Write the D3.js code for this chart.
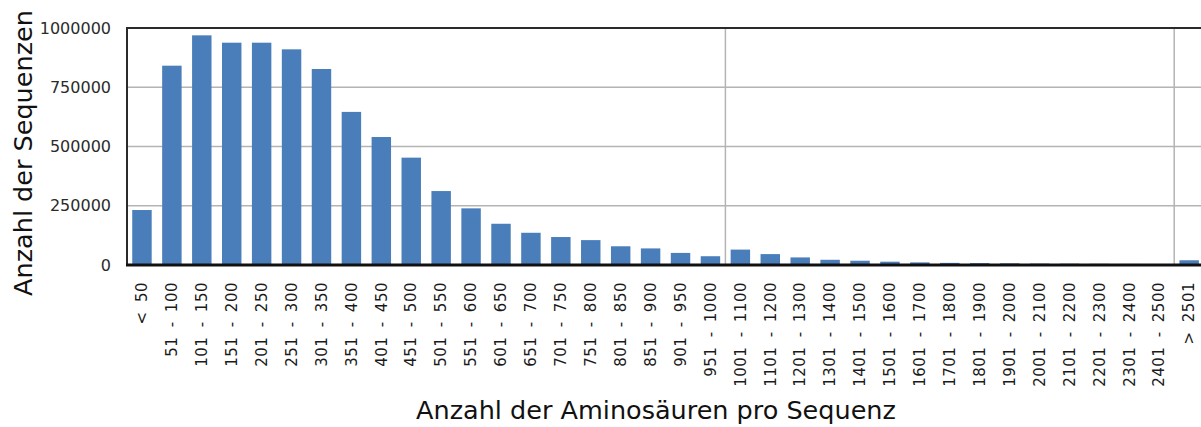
<!DOCTYPE html>
<html lang="de">
<head>
<meta charset="utf-8">
<title>Anzahl der Aminosäuren pro Sequenz</title>
<script src="https://cdn.jsdelivr.net/npm/d3@7"></script>
<style>
  html, body { margin: 0; padding: 0; background: #fff; }
  svg { display: block; font-family: "DejaVu Sans", sans-serif; }
</style>
</head>
<body>
<svg id="chart" width="1201" height="427"></svg>
<script>
// Sequence length bins (amino acids per sequence)
const categories = [
  "< 50", "51 - 100", "101 - 150", "151 - 200", "201 - 250", "251 - 300",
  "301 - 350", "351 - 400", "401 - 450", "451 - 500", "501 - 550", "551 - 600",
  "601 - 650", "651 - 700", "701 - 750", "751 - 800", "801 - 850", "851 - 900",
  "901 - 950", "951 - 1000",
  "1001 - 1100", "1101 - 1200", "1201 - 1300", "1301 - 1400", "1401 - 1500",
  "1501 - 1600", "1601 - 1700", "1701 - 1800", "1801 - 1900", "1901 - 2000",
  "2001 - 2100", "2101 - 2200", "2201 - 2300", "2301 - 2400", "2401 - 2500",
  "> 2501"
];

// Number of sequences per bin
const counts = [
  232000, 841000, 969000, 938000, 938000, 910000,
  827000, 646000, 540000, 453000, 312000, 239000,
  174000, 136000, 118000, 105000, 79000, 70000,
  51000, 37000,
  65000, 46000, 32000, 22000, 18000,
  14000, 11000, 9000, 8000, 7000,
  6000, 5500, 5000, 4500, 4000,
  20000
];

// Bins that start a new bin width (50 -> 100 -> open-ended)
const groupStarts = ["1001 - 1100", "> 2501"];

const yTicks = [0, 250000, 500000, 750000, 1000000];

const svg = d3.select("#chart");
const plotLeft = 127, plotTop = 28, plotBottom = 265;
const plotRight = plotLeft + categories.length * 29.92;

const x = d3.scaleBand()
  .domain(categories)
  .range([plotLeft, plotRight])
  .paddingInner(0.35)
  .paddingOuter(0.175);

const y = d3.scaleLinear()
  .domain([0, 1000000])
  .range([plotBottom, plotTop]);

// horizontal grid lines
svg.append("g")
  .selectAll("line")
  .data(yTicks.filter(d => d > 0 && d < 1000000))
  .join("line")
  .attr("x1", plotLeft).attr("x2", 1201)
  .attr("y1", d => y(d)).attr("y2", d => y(d))
  .attr("stroke", "#b4b4b4").attr("stroke-width", 1.5);

// vertical separators between bin-width groups
svg.append("g")
  .selectAll("line")
  .data(groupStarts)
  .join("line")
  .attr("x1", d => x(d) - x.step() * x.paddingInner() / 2)
  .attr("x2", d => x(d) - x.step() * x.paddingInner() / 2)
  .attr("y1", plotTop).attr("y2", plotBottom)
  .attr("stroke", "#b4b4b4").attr("stroke-width", 1.5);

// bars
svg.append("g")
  .selectAll("rect")
  .data(categories)
  .join("rect")
  .attr("x", d => x(d))
  .attr("width", x.bandwidth())
  .attr("y", (d, i) => y(counts[i]))
  .attr("height", (d, i) => plotBottom - y(counts[i]))
  .attr("fill", "#4a7ebb");

// frame: top and left edges, baseline
svg.append("line")
  .attr("x1", plotLeft).attr("x2", 1201).attr("y1", plotTop).attr("y2", plotTop)
  .attr("stroke", "#2a2a2a").attr("stroke-width", 2);
svg.append("line")
  .attr("x1", plotLeft).attr("x2", plotLeft).attr("y1", plotTop - 1).attr("y2", plotBottom)
  .attr("stroke", "#2a2a2a").attr("stroke-width", 2);
svg.append("line")
  .attr("x1", plotLeft - 1).attr("x2", 1201).attr("y1", plotBottom).attr("y2", plotBottom)
  .attr("stroke", "#111").attr("stroke-width", 3);

// y axis labels
const yAxis = d3.axisLeft(y).tickValues(yTicks).tickSize(0).tickPadding(16)
  .tickFormat(d3.format("d"));
svg.append("g")
  .attr("transform", `translate(${plotLeft},0)`)
  .call(yAxis)
  .call(g => g.select(".domain").remove())
  .call(g => g.selectAll("text")
    .attr("font-size", 16)
    .attr("font-family", "DejaVu Sans, sans-serif")
    .attr("fill", "#2b2b2b"));

// x axis labels, rotated
const xAxis = d3.axisBottom(x).tickSize(0).tickPadding(0);
svg.append("g")
  .attr("transform", `translate(0,${plotBottom})`)
  .call(xAxis)
  .call(g => g.select(".domain").remove())
  .call(g => g.selectAll("text")
    .attr("font-size", 15)
    .attr("font-family", "DejaVu Sans, sans-serif")
    .attr("fill", "#1a1a1a")
    .style("letter-spacing", "0.5px")
    .style("word-spacing", "4px")
    .attr("text-anchor", "end")
    .attr("transform", "rotate(-90)")
    .attr("x", -17)
    .attr("y", 0)
    .attr("dy", "0.35em"));

// axis titles
svg.append("text")
  .attr("x", 656).attr("y", 419)
  .attr("text-anchor", "middle")
  .attr("font-size", 25.5)
  .attr("fill", "#111")
  .text("Anzahl der Aminosäuren pro Sequenz");

svg.append("text")
  .attr("transform", "translate(32,153) rotate(-90)")
  .attr("text-anchor", "middle")
  .attr("font-size", 25.5)
  .attr("fill", "#111")
  .text("Anzahl der Sequenzen");
</script>
</body>
</html>
